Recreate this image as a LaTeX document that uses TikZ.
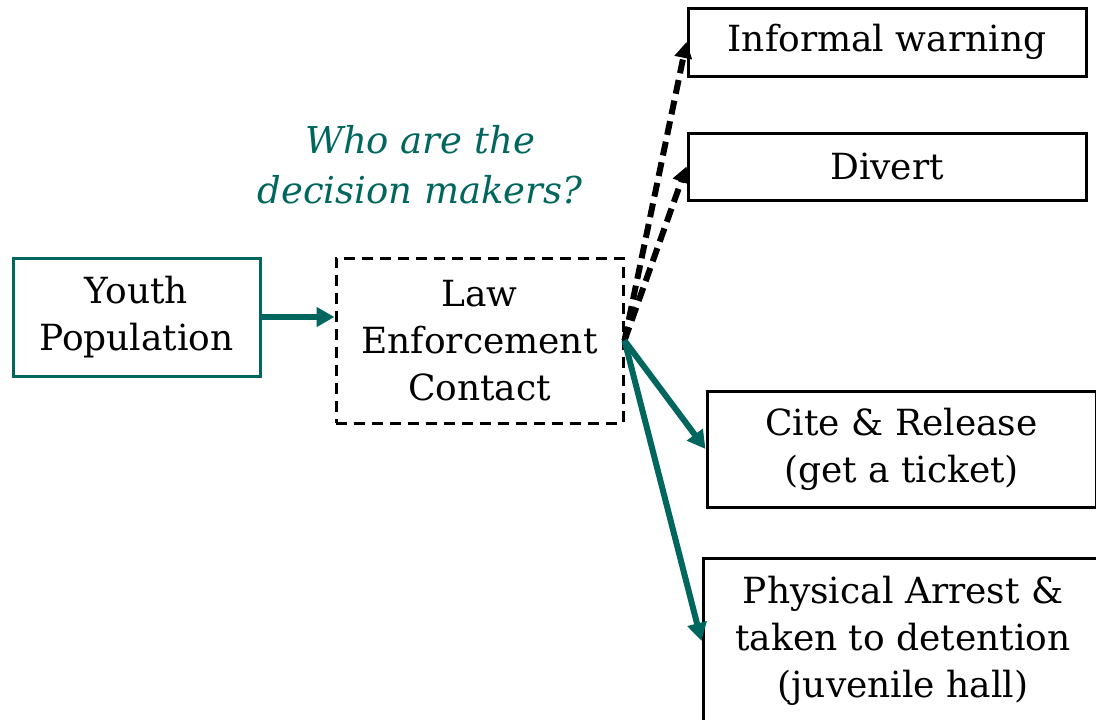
\documentclass[tikz,border=0pt]{standalone}
\usepackage{fontspec}
\setmainfont{DejaVu Serif}
\usetikzlibrary{arrows.meta}
\definecolor{teal1}{RGB}{0,102,94}
\begin{document}
\begin{tikzpicture}[x=1pt,y=-1pt,
  boxtext/.style={align=center,font=\fontsize{36}{47}\selectfont,inner sep=0pt},
  plainbox/.style={boxtext,draw=black,line width=3pt},
  tealbox/.style={boxtext,draw=teal1,line width=3pt},
  dashbox/.style={boxtext,draw=black,line width=3pt,dash pattern=on 11pt off 7pt},
  tealarrow/.style={draw=teal1,line width=6pt,-{Triangle[length=18pt,width=19pt]}},
  dasharrow/.style={draw=black,line width=6pt,dash pattern=on 14pt off 7pt,-{Triangle[length=16pt,width=17pt]}},
  question/.style={align=center,text=teal1,font=\fontsize{37}{50}\selectfont\itshape,inner sep=0pt}]
\useasboundingbox (0,0) rectangle (1096,720);
\clip (0,0) rectangle (1096,720);
\node[tealbox,minimum width=247pt,minimum height=118pt] (youth) at (136.5,317) {Youth\\Population};
\node[dashbox,minimum width=287pt,minimum height=165pt] (law) at (479.5,340.5) {Law\\Enforcement\\Contact};
\node[plainbox,minimum width=398pt,minimum height=68pt] (inf) at (887,42) {Informal warning};
\node[plainbox,minimum width=398pt,minimum height=67pt] (div) at (887,166.5) {Divert};
\node[plainbox,minimum width=389pt,minimum height=116pt] (cite) at (901.5,449) {Cite \& Release\\(get a ticket)};
\node[plainbox,minimum width=400pt,minimum height=166pt] (phys) at (903,641) {Physical Arrest \&\\taken to detention\\(juvenile hall)};
\node[question] (q) at (420,165) {Who are the\\decision makers?};
\coordinate (src) at (law.east);
\draw[tealarrow] (youth.east) -- (youth.east -| law.west);
\draw[dasharrow] (src) -- (inf.west);
\draw[dasharrow] (src) -- (div.west);
\draw[tealarrow] (src) -- (cite.west);
\draw[tealarrow] (src) -- (phys.west);
\end{tikzpicture}
\end{document}
